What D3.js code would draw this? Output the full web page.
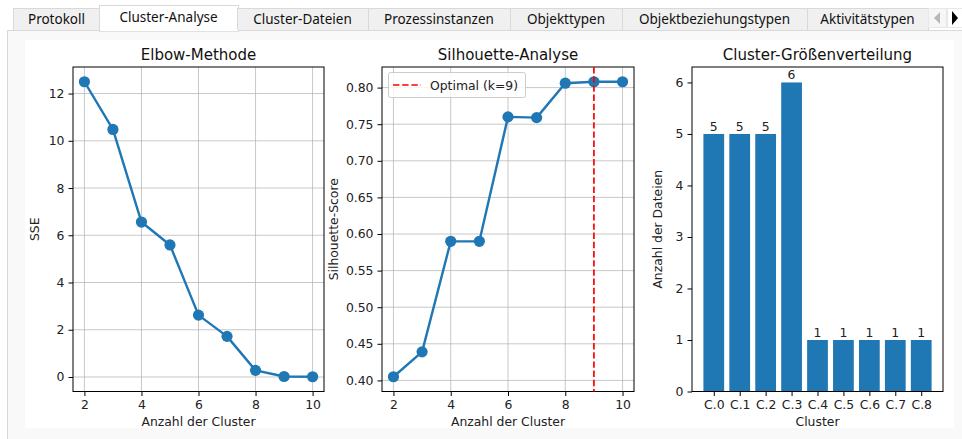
<!DOCTYPE html>
<meta charset="utf-8">
<style>
  body { margin: 0; background: #fff; }
  svg { display: block; }
  .tick text { fill: #222; }
</style>
<svg width="962" height="439"></svg>
<script src="https://d3js.org/d3.v7.min.js"></script>
<script>

// data
var tabNames = ["Protokoll", "Cluster-Analyse", "Cluster-Dateien", "Prozessinstanzen",
                "Objekttypen", "Objektbeziehungstypen", "Aktivitätstypen"]
var activeTab = 1
var kValues = [2, 3, 4, 5, 6, 7, 8, 9, 10]
var sseValues = [12.5, 10.48, 6.56, 5.59, 2.62, 1.72, 0.28, 0.02, 0.01]
var silhouetteValues = [0.405, 0.439, 0.590, 0.590, 0.760, 0.759, 0.806, 0.808, 0.808]
var optimalK = 9
var clusterLabels = ["C.0", "C.1", "C.2", "C.3", "C.4", "C.5", "C.6", "C.7", "C.8"]
var clusterSizes = [5, 5, 5, 6, 1, 1, 1, 1, 1]

var BLUE = "#1f77b4"
var FONT = "DejaVu Sans, sans-serif"
var TICK_FS = 12.4
var TITLE_FS = 15

var svg = d3.select("svg")

// ---- tab widget chrome ----
var tabEdges = [13, 100, 237, 368, 510, 622, 807, 928]

svg.append("rect")
  .attr("x", 7.5).attr("y", 30.5).attr("width", 960).attr("height", 420)
  .attr("fill", "#f9f9f9").attr("stroke", "#d9d9d9")

var tabs = svg.append("g").selectAll("g")
  .data(tabNames)
  .enter().append("g")

tabs.append("rect")
  .attr("x", function (d, i) { return tabEdges[i] + 0.5 - (i === activeTab ? 1 : 0) })
  .attr("y", function (d, i) { return i === activeTab ? 5.5 : 8.5 })
  .attr("width", function (d, i) { return tabEdges[i + 1] - tabEdges[i] + (i === activeTab ? 2 : 0) })
  .attr("height", function (d, i) { return i === activeTab ? 26 : 22 })
  .attr("fill", function (d, i) { return i === activeTab ? "#fff" : "#f0f0f0" })
  .attr("stroke", "#d9d9d9")

tabs.append("text")
  .attr("x", function (d, i) { return (tabEdges[i] + tabEdges[i + 1]) / 2 })
  .attr("y", function (d, i) { return i === activeTab ? 22 : 24 })
  .attr("text-anchor", "middle")
  .attr("font-family", "Noto Sans, sans-serif")
  .attr("font-size", 13.5)
  .attr("fill", "#111")
  .text(function (d) { return d })

// hide the bottom border under the active tab
svg.append("line")
  .attr("x1", tabEdges[activeTab]).attr("x2", tabEdges[activeTab + 1] + 1)
  .attr("y1", 30.5).attr("y2", 30.5)
  .attr("stroke", "#fff").attr("stroke-width", 1.5)

// scroll buttons
svg.append("rect").attr("x", 928.5).attr("y", 8.5).attr("width", 18).attr("height", 19)
  .attr("fill", "#f6f6f6").attr("stroke", "#e8e8e8")
svg.append("rect").attr("x", 947.5).attr("y", 8.5).attr("width", 15).attr("height", 19)
  .attr("fill", "#fff").attr("stroke", "#e8e8e8")
svg.append("path").attr("d", "M940,12 L934,18 L940,24 Z").attr("fill", "#b8b8b8")
svg.append("path").attr("d", "M952,11 L958,18 L952,25 Z").attr("fill", "#000")

// figure canvas
svg.append("rect")
  .attr("x", 25).attr("y", 40).attr("width", 929).attr("height", 388)
  .attr("fill", "#fff")

var plotTop = 67, plotBottom = 391.5

function padded(ext) {
  var m = (ext[1] - ext[0]) * 0.05
  return [ext[0] - m, ext[1] + m]
}

function drawGrid(g, x0, x1, x, y, xTicks, yTicks) {
  g.append("g").selectAll("line").data(xTicks).enter().append("line")
    .attr("x1", function (d) { return x(d) }).attr("x2", function (d) { return x(d) })
    .attr("y1", plotTop).attr("y2", plotBottom)
    .attr("stroke", "#b0b0b0").attr("stroke-opacity", 0.7).attr("stroke-width", 1)
  g.append("g").selectAll("line").data(yTicks).enter().append("line")
    .attr("x1", x0).attr("x2", x1)
    .attr("y1", function (d) { return y(d) }).attr("y2", function (d) { return y(d) })
    .attr("stroke", "#b0b0b0").attr("stroke-opacity", 0.7).attr("stroke-width", 1)
}

function drawAxes(g, x0, x1, xAxis, yAxis) {
  var ax = g.append("g").attr("transform", "translate(0," + plotBottom + ")").call(xAxis)
  var ay = g.append("g").attr("transform", "translate(" + x0 + ",0)").call(yAxis)
  ;[ax, ay].forEach(function (a) {
    a.select(".domain").remove()
    a.selectAll("text").attr("font-family", FONT).attr("font-size", TICK_FS)
    a.selectAll(".tick line").attr("stroke", "#000").attr("stroke-width", 1)
  })
  g.append("rect")
    .attr("x", x0).attr("y", plotTop).attr("width", x1 - x0).attr("height", plotBottom - plotTop)
    .attr("fill", "none").attr("stroke", "#000").attr("stroke-width", 1)
}

function labels(g, x0, x1, title, xLabel, yLabel, yLabelX) {
  var cx = (x0 + x1) / 2
  g.append("text").attr("x", cx).attr("y", 60).attr("text-anchor", "middle")
    .attr("font-family", FONT).attr("font-size", TITLE_FS).attr("fill", "#111").text(title)
  g.append("text").attr("x", cx).attr("y", 426).attr("text-anchor", "middle")
    .attr("font-family", FONT).attr("font-size", TICK_FS).attr("fill", "#222").text(xLabel)
  g.append("text")
    .attr("transform", "translate(" + yLabelX + "," + (plotTop + plotBottom) / 2 + ") rotate(-90)")
    .attr("text-anchor", "middle")
    .attr("font-family", FONT).attr("font-size", TICK_FS).attr("fill", "#222").text(yLabel)
}

function lineChart(x0, x1, values, yTicks, yFmt, title, yLabel, yLabelX) {
  var g = svg.append("g")
  var x = d3.scaleLinear().domain(padded(d3.extent(kValues))).range([x0, x1])
  var y = d3.scaleLinear().domain(padded(d3.extent(values))).range([plotBottom, plotTop])
  var xTicks = [2, 4, 6, 8, 10]
  drawGrid(g, x0, x1, x, y, xTicks, yTicks)
  g.append("path")
    .datum(values)
    .attr("fill", "none").attr("stroke", BLUE).attr("stroke-width", 2.4)
    .attr("stroke-linejoin", "round")
    .attr("d", d3.line().x(function (d, i) { return x(kValues[i]) }).y(function (d) { return y(d) }))
  g.append("g").selectAll("circle").data(values).enter().append("circle")
    .attr("cx", function (d, i) { return x(kValues[i]) })
    .attr("cy", function (d) { return y(d) })
    .attr("r", 5.6).attr("fill", BLUE)
  drawAxes(g, x0, x1,
    d3.axisBottom(x).tickValues(xTicks).tickSize(4.5).tickPadding(4),
    d3.axisLeft(y).tickValues(yTicks).tickFormat(yFmt).tickSize(4.5).tickPadding(4))
  labels(g, x0, x1, title, "Anzahl der Cluster", yLabel, yLabelX)
  return { g: g, x: x, y: y }
}

// ---- Elbow ----
lineChart(73, 324, sseValues, [0, 2, 4, 6, 8, 10, 12], d3.format("d"),
  "Elbow-Methode", "SSE", 39)

// ---- Silhouette ----
var sil = lineChart(382, 634, silhouetteValues,
  [0.40, 0.45, 0.50, 0.55, 0.60, 0.65, 0.70, 0.75, 0.80], d3.format(".2f"),
  "Silhouette-Analyse", "Silhouette-Score", 338)

sil.g.append("line")
  .attr("x1", sil.x(optimalK)).attr("x2", sil.x(optimalK))
  .attr("y1", plotTop).attr("y2", plotBottom)
  .attr("stroke", "red").attr("stroke-width", 1.7)
  .attr("stroke-dasharray", "6.4,2.8")

var legend = sil.g.append("g")
legend.append("rect")
  .attr("x", 388.5).attr("y", 72.5).attr("width", 137).attr("height", 25).attr("rx", 2)
  .attr("fill", "#fff").attr("fill-opacity", 0.8).attr("stroke", "#ccc")
legend.append("line")
  .attr("x1", 393).attr("x2", 421).attr("y1", 85).attr("y2", 85)
  .attr("stroke", "red").attr("stroke-width", 1.7).attr("stroke-dasharray", "6.4,2.8")
legend.append("text")
  .attr("x", 430).attr("y", 89.5)
  .attr("font-family", FONT).attr("font-size", TICK_FS).attr("fill", "#222")
  .text("Optimal (k=" + optimalK + ")")

// ---- Cluster sizes ----
var bg = svg.append("g")
var bx0 = 692, bx1 = 943
var bx = d3.scaleLinear().domain(padded([-0.4, clusterLabels.length - 0.6])).range([bx0, bx1])
var by = d3.scaleLinear().domain([0, d3.max(clusterSizes) * 1.05]).range([plotBottom, plotTop])

bg.append("g").selectAll("rect").data(clusterSizes).enter().append("rect")
  .attr("x", function (d, i) { return bx(i - 0.4) })
  .attr("width", bx(0.8) - bx(0))
  .attr("y", function (d) { return by(d) })
  .attr("height", function (d) { return plotBottom - by(d) })
  .attr("fill", BLUE)

bg.append("g").selectAll("text").data(clusterSizes).enter().append("text")
  .attr("x", function (d, i) { return bx(i) })
  .attr("y", function (d) { return by(d) - 3 })
  .attr("text-anchor", "middle")
  .attr("font-family", FONT).attr("font-size", TICK_FS).attr("fill", "#222")
  .text(function (d) { return d })

drawAxes(bg, bx0, bx1,
  d3.axisBottom(bx).tickValues(d3.range(clusterLabels.length))
    .tickFormat(function (i) { return clusterLabels[i] }).tickSize(4.5).tickPadding(4),
  d3.axisLeft(by).tickValues([0, 1, 2, 3, 4, 5, 6]).tickFormat(d3.format("d")).tickSize(4.5).tickPadding(4))
labels(bg, bx0, bx1, "Cluster-Größenverteilung", "Cluster", "Anzahl der Dateien", 662)

</script>
